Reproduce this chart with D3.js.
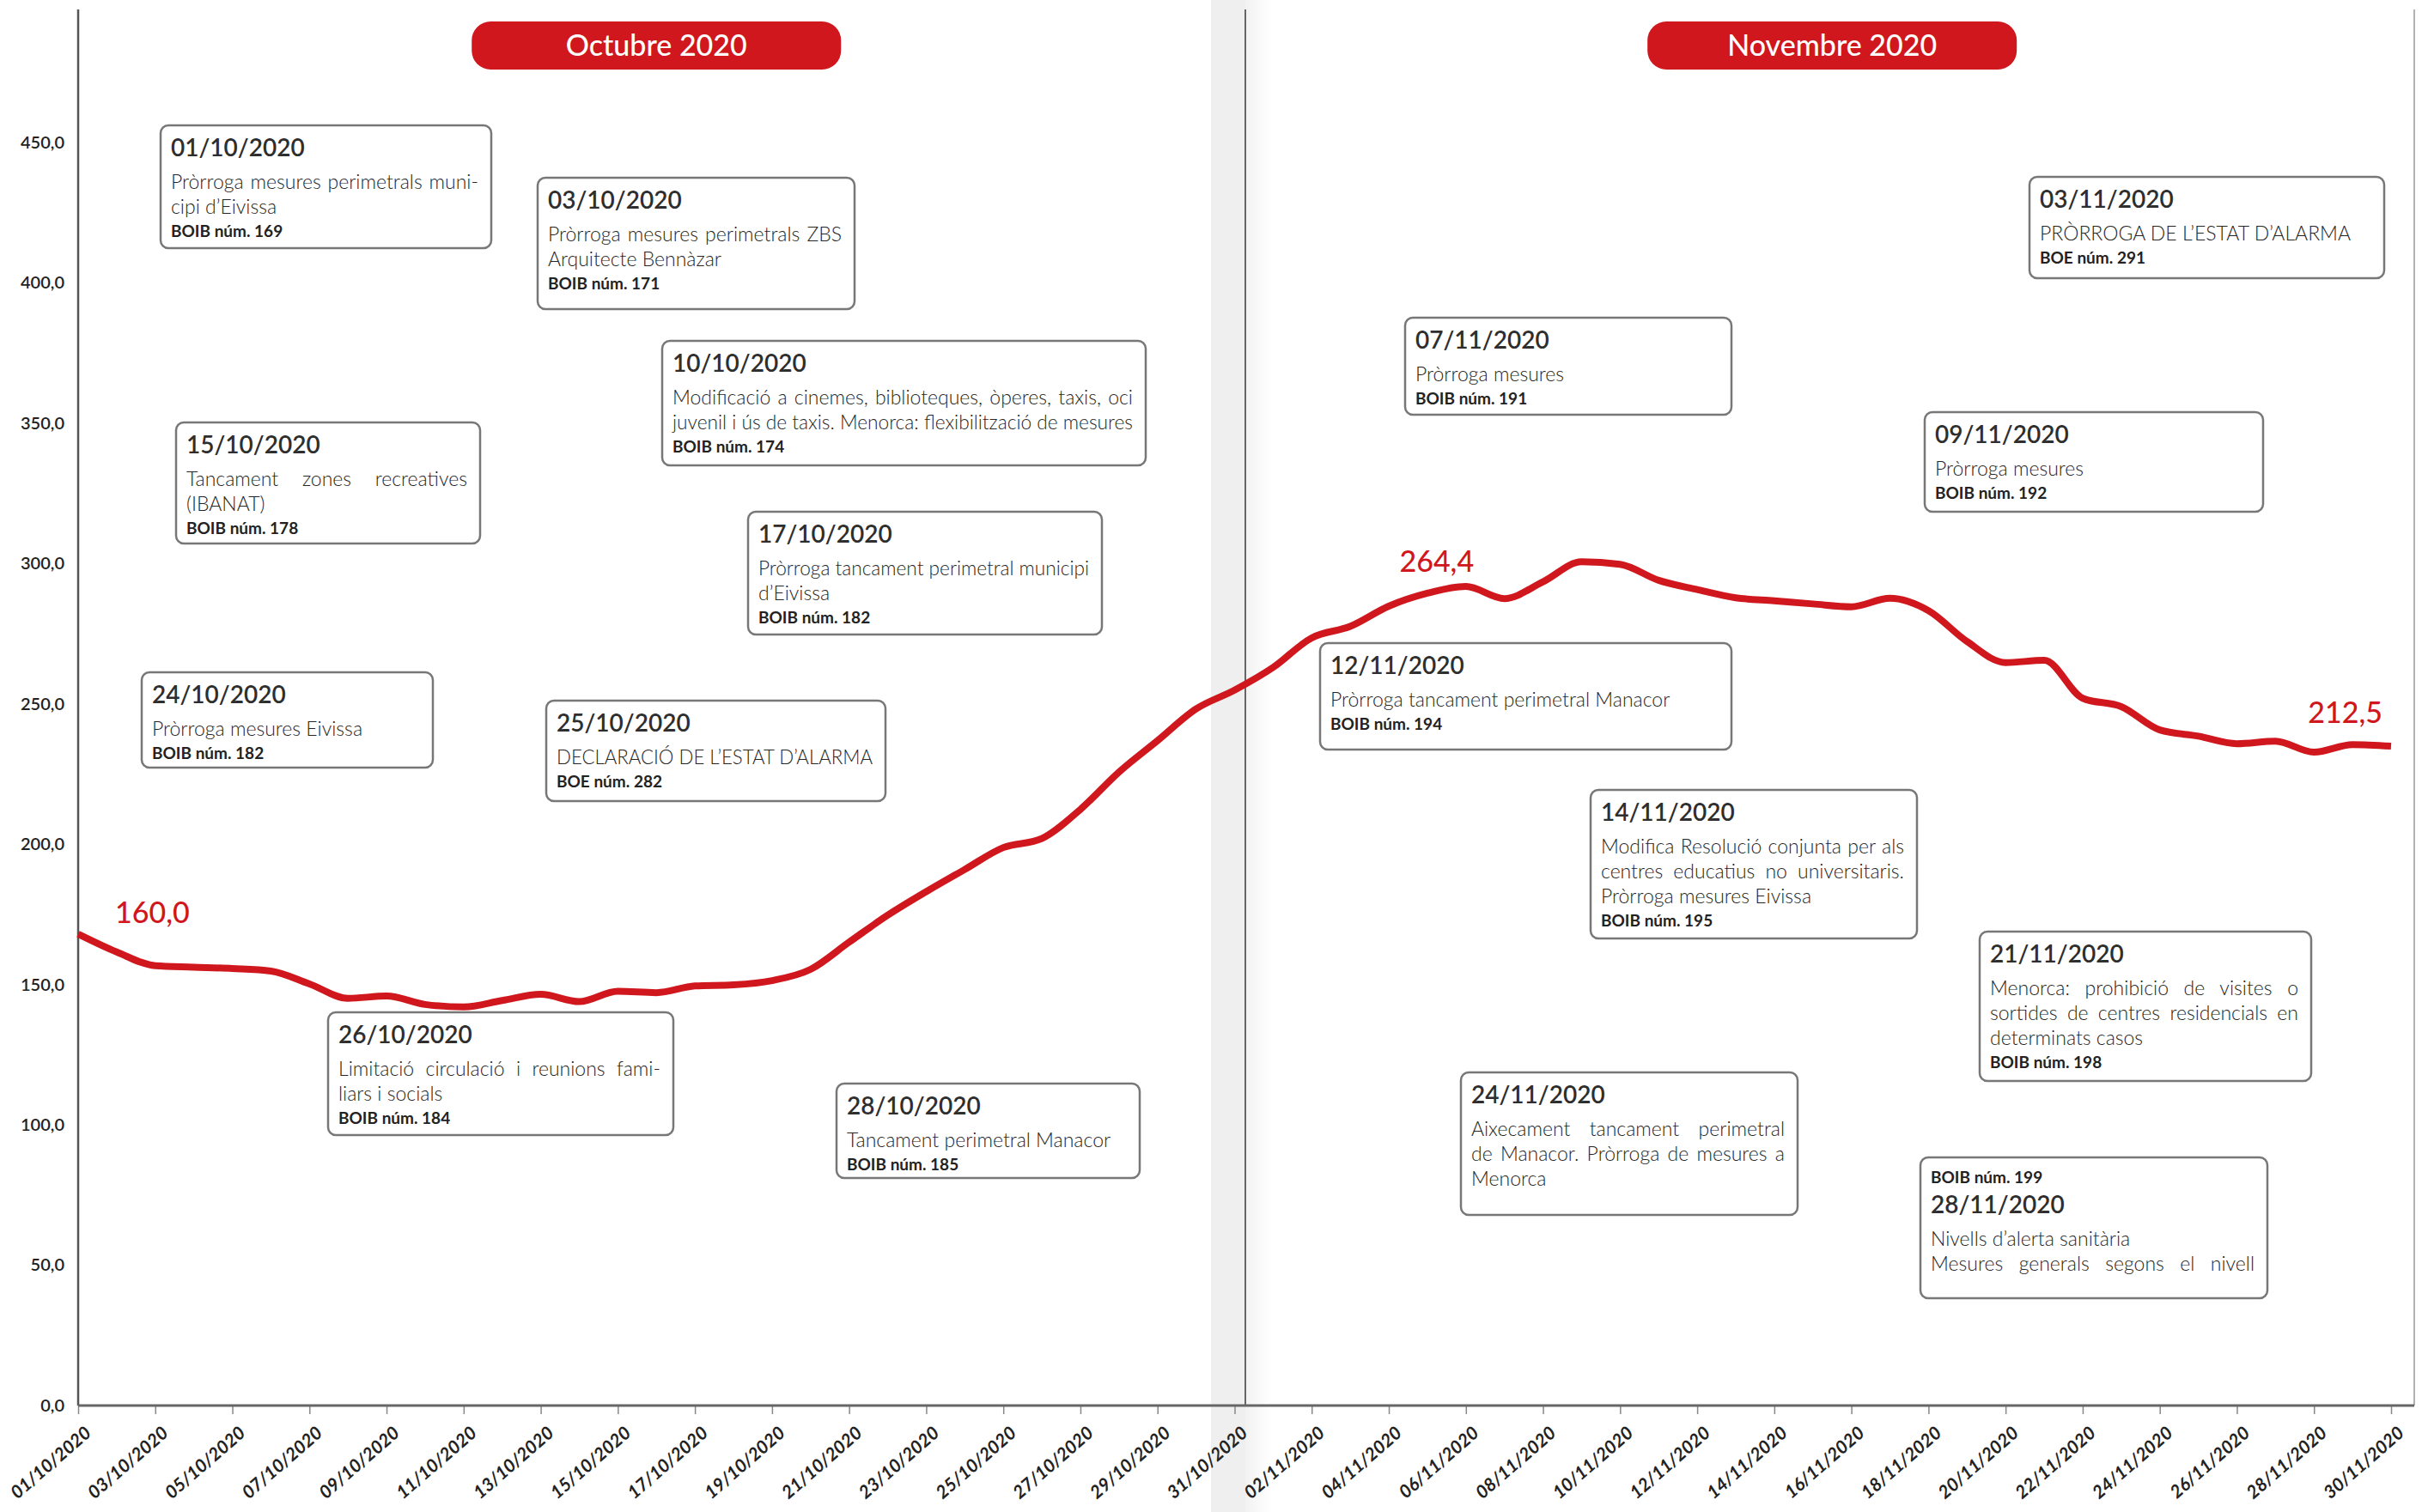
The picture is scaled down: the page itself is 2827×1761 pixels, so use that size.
<!DOCTYPE html>
<html>
<head>
<meta charset="utf-8">
<script src="https://cdn.jsdelivr.net/npm/d3@7"></script>
<style>
body { margin: 0; background: #fff; }
svg { display: block; font-family: Lato, "Open Sans", sans-serif; }
</style>
</head>
<body>
<div class="container"></div>
<script>
// ---- data ----
var startDate = "01/10/2020";
var endDate = "30/11/2020";

// 14-day incidence, one value per day 01/10 .. 30/11
var incidence = [
  168.0, 161.6, 156.7, 156.2, 155.7, 154.8, 150.2, 145.1, 145.9, 142.9,
  142.0, 144.3, 146.5, 143.9, 147.6, 147.1, 149.5, 149.9, 151.4, 155.4,
  165.1, 174.7, 183.1, 191.0, 198.8, 202.0, 212.4, 225.7, 236.9, 248.2,
  254.9, 263.0, 273.5, 277.6, 284.8, 289.4, 291.8, 287.5, 293.5, 300.6,
  299.7, 294.0, 290.7, 287.8, 286.7, 285.6, 284.6, 287.6, 283.2, 272.2,
  264.7, 265.5, 252.0, 249.0, 240.7, 238.5, 235.8, 236.7, 232.8, 235.5,
  234.9
];

var xTickLabels = [
  "01/10/2020", "03/10/2020", "05/10/2020", "07/10/2020", "09/10/2020", "11/10/2020",
  "13/10/2020", "15/10/2020", "17/10/2020", "19/10/2020", "21/10/2020", "23/10/2020",
  "25/10/2020", "27/10/2020", "29/10/2020", "31/10/2020", "02/11/2020", "04/11/2020",
  "06/11/2020", "08/11/2020", "10/11/2020", "12/11/2020", "14/11/2020", "16/11/2020",
  "18/11/2020", "20/11/2020", "22/11/2020", "24/11/2020", "26/11/2020", "28/11/2020",
  "30/11/2020"
];
var yTickValues = [0, 50, 100, 150, 200, 250, 300, 350, 400, 450];

var monthNames = ["Octubre 2020", "Novembre 2020"];
var monthFirst = ["01/10/2020", "01/11/2020"];
var monthLast = ["31/10/2020", "30/11/2020"];

var labelDates = ["01/10/2020", "06/11/2020", "30/11/2020"];
var labelTexts = ["160,0", "264,4", "212,5"];

var eventDates = ["01/10/2020", "03/10/2020", "10/10/2020", "15/10/2020", "17/10/2020",
  "24/10/2020", "25/10/2020", "26/10/2020", "28/10/2020", "03/11/2020", "07/11/2020",
  "09/11/2020", "12/11/2020", "14/11/2020", "21/11/2020", "24/11/2020", "28/11/2020"];
var eventTexts = [
  ["Pròrroga mesures perimetrals muni-", "cipi d’Eivissa"],
  ["Pròrroga mesures perimetrals ZBS", "Arquitecte Bennàzar"],
  ["Modificació a cinemes, biblioteques, òperes, taxis, oci", "juvenil i ús de taxis. Menorca: flexibilització de mesures"],
  ["Tancament zones recreatives", "(IBANAT)"],
  ["Pròrroga tancament perimetral municipi", "d’Eivissa"],
  ["Pròrroga mesures Eivissa"],
  ["DECLARACIÓ DE L’ESTAT D’ALARMA"],
  ["Limitació circulació i reunions fami-", "liars i socials"],
  ["Tancament perimetral Manacor"],
  ["PRÒRROGA DE L’ESTAT D’ALARMA"],
  ["Pròrroga mesures"],
  ["Pròrroga mesures"],
  ["Pròrroga tancament perimetral Manacor"],
  ["Modifica Resolució conjunta per als", "centres educatius no universitaris.", "Pròrroga mesures Eivissa"],
  ["Menorca: prohibició de visites o", "sortides de centres residencials en", "determinats casos"],
  ["Aixecament tancament perimetral", "de Manacor. Pròrroga de mesures a", "Menorca"],
  ["Nivells d’alerta sanitària", "Mesures generals segons el nivell"]
];
var eventRefs = ["BOIB núm. 169", "BOIB núm. 171", "BOIB núm. 174", "BOIB núm. 178", "BOIB núm. 182",
  "BOIB núm. 182", "BOE núm. 282", "BOIB núm. 184", "BOIB núm. 185", "BOE núm. 291", "BOIB núm. 191",
  "BOIB núm. 192", "BOIB núm. 194", "BOIB núm. 195", "BOIB núm. 198", "", "BOIB núm. 199"];

// ---- layout ----
const WIDTH = 2827;
const HEIGHT = 1761;
const PLOT_LEFT = 91;
const PLOT_END = 2784;
const FRAME_RIGHT = 2811;
const FRAME_TOP = 11;
const AXIS_Y = 1637;
const RED = "#d0171d";

// annotation boxes [x, y, w, h]
var boxLayout = [
  [187, 146, 385, 143], [626, 207, 369, 153], [771, 397, 563, 145], [205, 492, 354, 141],
  [871, 596, 412, 143], [165, 783, 339, 111], [636, 816, 395, 117], [382, 1179, 402, 143],
  [974, 1262, 353, 110], [2363, 206, 413, 118], [1636, 370, 380, 113], [2241, 480, 394, 116],
  [1537, 749, 479, 124], [1852, 920, 380, 173], [2305, 1085, 386, 174], [1701, 1249, 392, 166],
  [2236, 1348, 404, 164]
];
var justifyLines = [[0], [0], [0], [0], [0], [], [], [0], [], [], [], [], [], [0, 1], [0, 1], [0, 1], [1]];
var refOnTop = [16];
var labelOffsets = [[43, -13, "start"], [-34, -17, "middle"], [-10, -27, "end"]];

var translate = function(x, y){
  return "translate(" + x + "," + y + ")";
};

var parseDate = d3.utcParse("%d/%m/%Y");
var days = d3.utcDay.range(parseDate(startDate), d3.utcDay.offset(parseDate(endDate), 1));
var series = days.map(function(d, i){ return {date: d, value: incidence[i]}; });

var svg = d3.select('.container').append('svg')
  .attr('width', WIDTH)
  .attr('height', HEIGHT);

var xScale = d3.scaleUtc()
  .domain([parseDate(startDate), parseDate(endDate)])
  .range([PLOT_LEFT, PLOT_END]);

var yScale = d3.scaleLinear()
  .domain([0, 500])
  .range([AXIS_Y, 2.5]);

// grey band at the month change
var defs = svg.append('defs');
var grad = defs.append('linearGradient').attr('id', 'fade');
grad.append('stop').attr('offset', '0%').attr('stop-color', '#f2f2f2');
grad.append('stop').attr('offset', '100%').attr('stop-color', '#ffffff');

svg.append('rect')
  .attr('x', 1410).attr('y', 0)
  .attr('width', 40).attr('height', HEIGHT)
  .attr('fill', '#efefef');
svg.append('rect')
  .attr('x', 1450).attr('y', 0)
  .attr('width', 30).attr('height', HEIGHT)
  .attr('fill', 'url(#fade)');

// frame lines
svg.append('line')
  .attr('x1', FRAME_RIGHT).attr('x2', FRAME_RIGHT)
  .attr('y1', FRAME_TOP).attr('y2', AXIS_Y)
  .attr('stroke', '#999').attr('stroke-width', 1.5);
svg.append('line')
  .attr('x1', 1450).attr('x2', 1450)
  .attr('y1', FRAME_TOP).attr('y2', AXIS_Y)
  .attr('stroke', '#666').attr('stroke-width', 2);
svg.append('line')
  .attr('x1', PLOT_LEFT).attr('x2', PLOT_LEFT)
  .attr('y1', FRAME_TOP).attr('y2', AXIS_Y)
  .attr('stroke', '#555').attr('stroke-width', 2.5);

// y axis
var yAxis = d3.axisLeft(yScale)
  .tickValues(yTickValues)
  .tickSize(0)
  .tickPadding(16)
  .tickFormat(function(d){ return d3.format(".1f")(d).replace(".", ","); });

var yG = svg.append('g')
  .attr('transform', translate(PLOT_LEFT, 0))
  .call(yAxis);
yG.select('.domain').remove();
yG.selectAll('text')
  .attr('font-family', 'Lato, sans-serif')
  .attr('font-size', 20)
  .attr('font-weight', 600)
  .attr('fill', '#222');

// x axis
var xAxis = d3.axisBottom(xScale)
  .tickValues(xTickLabels.map(parseDate))
  .tickSize(10)
  .tickFormat(d3.utcFormat("%d/%m/%Y"));

var xG = svg.append('g')
  .attr('transform', translate(0, AXIS_Y))
  .call(xAxis);
xG.select('.domain').remove();
xG.selectAll('.tick line').attr('stroke', '#888').attr('stroke-width', 1.5);
xG.selectAll('.tick text')
  .attr('font-family', 'Lato, sans-serif')
  .attr('font-size', 21)
  .attr('font-weight', 700)
  .attr('font-style', 'italic')
  .attr('fill', '#222')
  .attr('text-anchor', 'end')
  .attr('dy', null)
  .attr('y', null)
  .attr('transform', 'translate(16,34) rotate(-41)');

svg.append('line')
  .attr('x1', PLOT_LEFT).attr('x2', FRAME_RIGHT)
  .attr('y1', AXIS_Y).attr('y2', AXIS_Y)
  .attr('stroke', '#666').attr('stroke-width', 3);

// month pills
monthNames.forEach(function(name, i){
  var cx = (xScale(parseDate(monthFirst[i])) + xScale(parseDate(monthLast[i]))) / 2;
  svg.append('rect')
    .attr('x', cx - 215).attr('y', 25)
    .attr('width', 430).attr('height', 56)
    .attr('rx', 22)
    .attr('fill', RED);
  svg.append('text')
    .attr('x', cx).attr('y', 65)
    .attr('text-anchor', 'middle')
    .attr('font-size', 34)
    .attr('font-weight', 500)
    .attr('fill', '#fff')
    .text(name);
});

// annotation boxes
var PAD_L = 12, PAD_R = 15;

var fitLine = function(t, avail, justify){
  var node = t.node();
  var w = node.getComputedTextLength();
  var text = t.text();
  var spaces = (text.match(/ /g) || []).length;
  if (w > avail) {
    t.attr('textLength', avail).attr('lengthAdjust', 'spacingAndGlyphs');
  } else if (justify && spaces > 0) {
    t.attr('word-spacing', (avail - w) / spaces);
  }
};

eventDates.forEach(function(date, i){
  var b = boxLayout[i];
  var g = svg.append('g').attr('transform', translate(b[0], b[1]));
  g.append('rect')
    .attr('width', b[2]).attr('height', b[3])
    .attr('rx', 9)
    .attr('fill', '#fff')
    .attr('stroke', '#777')
    .attr('stroke-width', 2.5);

  var avail = b[2] - PAD_L - PAD_R;
  var y = 0;
  var addRef = function(yy){
    g.append('text')
      .attr('x', PAD_L).attr('y', yy)
      .attr('font-size', 19)
      .attr('font-weight', 700)
      .attr('fill', '#222')
      .text(eventRefs[i]);
  };

  if (refOnTop.indexOf(i) >= 0) {
    y += 30;
    addRef(y);
    y += 35;
  } else {
    y += 36;
  }
  g.append('text')
    .attr('x', PAD_L).attr('y', y)
    .attr('font-size', 28)
    .attr('font-weight', 600)
    .attr('fill', '#2e2e2e')
    .text(date);

  eventTexts[i].forEach(function(line, j){
    y += (j === 0) ? 38 : 29;
    var t = g.append('text')
      .attr('x', PAD_L).attr('y', y)
      .attr('font-size', 23)
      .attr('font-weight', 300)
      .attr('fill', '#262626')
      .text(line);
    fitLine(t, avail, justifyLines[i].indexOf(j) >= 0);
  });

  if (refOnTop.indexOf(i) < 0 && eventRefs[i] !== "") {
    y += 27;
    addRef(y);
  }
});

// incidence line
var line = d3.line()
  .x(function(d){ return xScale(d.date); })
  .y(function(d){ return yScale(d.value); })
  .curve(d3.curveMonotoneX);

svg.append('path')
  .datum(series)
  .attr('d', line)
  .attr('fill', 'none')
  .attr('stroke', RED)
  .attr('stroke-width', 8)
  .attr('stroke-linejoin', 'round');

// value labels
labelDates.forEach(function(ds, i){
  var d = parseDate(ds);
  var p = series.find(function(s){ return +s.date === +d; });
  var off = labelOffsets[i];
  svg.append('text')
    .attr('x', xScale(p.date) + off[0])
    .attr('y', yScale(p.value) + off[1])
    .attr('text-anchor', off[2])
    .attr('font-size', 34)
    .attr('font-weight', 500)
    .attr('fill', RED)
    .text(labelTexts[i]);
});
</script>
</body>
</html>
